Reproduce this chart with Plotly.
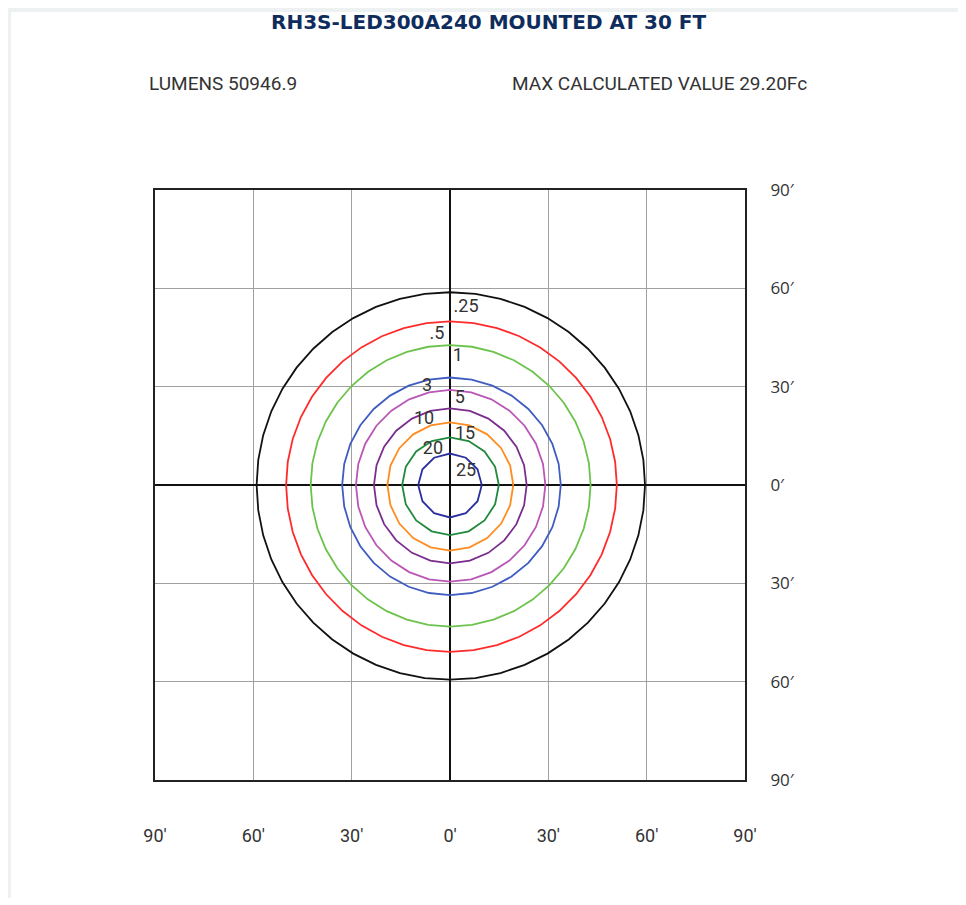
import numpy as np
import plotly.graph_objects as go

# ---- data (feet) ----
levels = [".25", ".5", "1", "3", "5", "10", "15", "20", "25"]
r_north = [58.8, 49.9, 42.7, 32.8, 29.0, 23.4, 19.1, 14.5, 9.6]
r_east = [59.5, 50.9, 42.9, 33.8, 29.1, 23.4, 19.3, 14.9, 9.7]
r_south = [59.4, 50.9, 43.2, 33.6, 29.5, 23.9, 20.0, 15.3, 9.9]
r_west = [59.0, 50.0, 42.5, 32.9, 28.7, 23.2, 19.1, 14.6, 9.7]
label_x = [4.9, -4.0, 2.4, -7.0, 3.0, -7.9, 4.6, -5.2, 4.9]
label_y = [54.3, 45.8, 39.1, 29.9, 26.5, 20.1, 15.3, 10.7, 4.0]

tick_vals = [-90, -60, -30, 0, 30, 60, 90]
tick_text = ["90′", "60′", "30′", "0′", "30′", "60′", "90′"]

title_text = "RH3S-LED300A240 MOUNTED AT 30 FT"
lumens_text = "LUMENS 50946.9"
max_text = "MAX CALCULATED VALUE 29.20Fc"

# ---- styles ----
colors = ["#111111", "#ff2b2b", "#6cc34c", "#3f5cc0", "#b956b6",
          "#7a2d8c", "#ff8c1f", "#1f8a3c", "#2b2f9e"]
vertex_counts = [48, 44, 40, 32, 28, 24, 20, 16, 12]

OFF = 8  # page body margin
W, H = 950, 890
pw = ph = 590
L, T = 155 - OFF, 190 - OFF
R, B = W - L - pw, H - T - ph


def px2paper_x(px):
    return (px - OFF - L) / pw


def px2paper_y(py):
    return (T + ph - (py - OFF)) / ph


fig = go.Figure()

for i, lev in enumerate(levels):
    n = vertex_counts[i]
    th = np.linspace(0, 2 * np.pi, n + 1)
    c, s = np.cos(th), np.sin(th)
    rx = np.where(c >= 0, r_east[i], r_west[i])
    ry = np.where(s >= 0, r_north[i], r_south[i])
    fig.add_trace(go.Scatter(x=rx * c, y=ry * s, mode="lines",
                             line=dict(color=colors[i], width=1.8),
                             hoverinfo="skip", showlegend=False))

fig.add_trace(go.Scatter(x=label_x, y=label_y, mode="text", text=levels,
                         textfont=dict(family="Roboto", size=18, color="#333333"),
                         hoverinfo="skip", showlegend=False))

# card border
fig.add_shape(type="rect", xref="paper", yref="paper",
              x0=px2paper_x(9), x1=px2paper_x(964), y0=px2paper_y(903), y1=px2paper_y(10),
              line=dict(color="#eef1f1", width=4), fillcolor="rgba(0,0,0,0)", layer="below")

fig.add_annotation(x=px2paper_x(488), y=px2paper_y(22), xref="paper", yref="paper",
                   xanchor="center", yanchor="middle",
                   text="<b>" + title_text + "</b>", showarrow=False,
                   font=dict(family="DejaVu Sans", size=20, color="#0f2d5c"))
fig.add_annotation(x=px2paper_x(147), y=px2paper_y(84), xref="paper", yref="paper",
                   xanchor="left", yanchor="middle", text=lumens_text, showarrow=False,
                   font=dict(family="Roboto", size=19, color="#333333"))
fig.add_annotation(x=px2paper_x(510), y=px2paper_y(84), xref="paper", yref="paper",
                   xanchor="left", yanchor="middle", text=max_text, showarrow=False,
                   font=dict(family="Roboto", size=19, color="#333333"))

axis_common = dict(range=[-90, 90], tickvals=tick_vals, ticktext=tick_text,
                   showgrid=True, gridcolor="#a0a0a0", gridwidth=1.2,
                   zeroline=True, zerolinecolor="#111111", zerolinewidth=1.8,
                   showline=True, linecolor="#222222", linewidth=2, mirror=True,
                   ticks="", fixedrange=True)

fig.update_layout(
    width=W, height=H,
    margin=dict(l=L, r=R, t=T, b=B),
    paper_bgcolor="white", plot_bgcolor="white",
    xaxis=dict(**axis_common, ticklabelstandoff=38,
               tickfont=dict(family="Roboto", size=18, color="#333333")),
    yaxis=dict(**axis_common, side="right", ticklabelstandoff=20,
               tickfont=dict(family="Open Sans", size=17, color="#333333")),
)

fig.write_html("out.html")
